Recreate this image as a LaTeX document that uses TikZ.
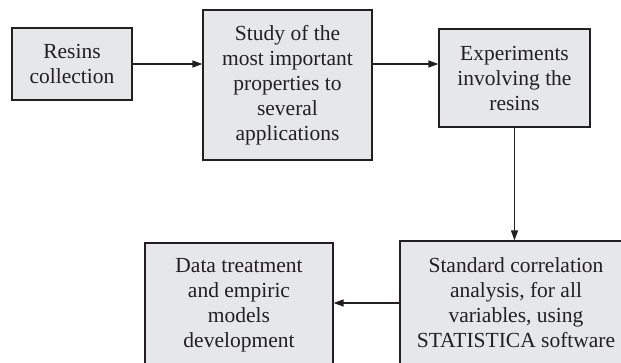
\documentclass[tikz,border=0pt]{standalone}
\usepackage{fontspec}
\setmainfont{Liberation Serif}
\usetikzlibrary{arrows.meta}
\definecolor{boxfill}{HTML}{E6E7E8}
\definecolor{ink}{HTML}{231F20}
\begin{document}
\begin{tikzpicture}[x=1pt,y=-1pt,
  stepbox/.style={draw=ink, fill=boxfill, line width=1.2pt, inner sep=0pt,
    align=center, text=ink, font=\fontsize{21.5pt}{25pt}\selectfont},
  flow/.style={draw=ink, line width=1.3pt, -{Triangle[length=10pt,width=7pt]}}]
\useasboundingbox (0,0) rectangle (621,363);
\clip (0,0) rectangle (621,363);
\node[stepbox, minimum width=120pt, minimum height=72pt] (b1) at (72,64) {Resins\\collection};
\node[stepbox, minimum width=169pt, minimum height=150pt] (b2) at (287.5,85) {Study of the\\most important\\properties to\\several\\applications};
\node[stepbox, minimum width=151pt, minimum height=98pt] (b3) at (514.5,78) {Experiments\\involving the\\resins};
\node[stepbox, minimum width=232pt, minimum height=124pt] (b4) at (516,303) {Standard correlation\\analysis, for all\\variables, using\\STATISTICA software};
\node[stepbox, minimum width=188pt, minimum height=124pt] (b5) at (239,305) {Data treatment\\and empiric\\models\\development};
\draw[flow] (b1.east) -- (b1.east -| b2.west);
\draw[flow] (b1.east -| b2.east) -- (b1.east -| b3.west);
\draw[flow] (b3.south) -- (b3.south |- b4.north);
\draw[flow] (b4.west) -- (b4.west -| b5.east);
\end{tikzpicture}
\end{document}
